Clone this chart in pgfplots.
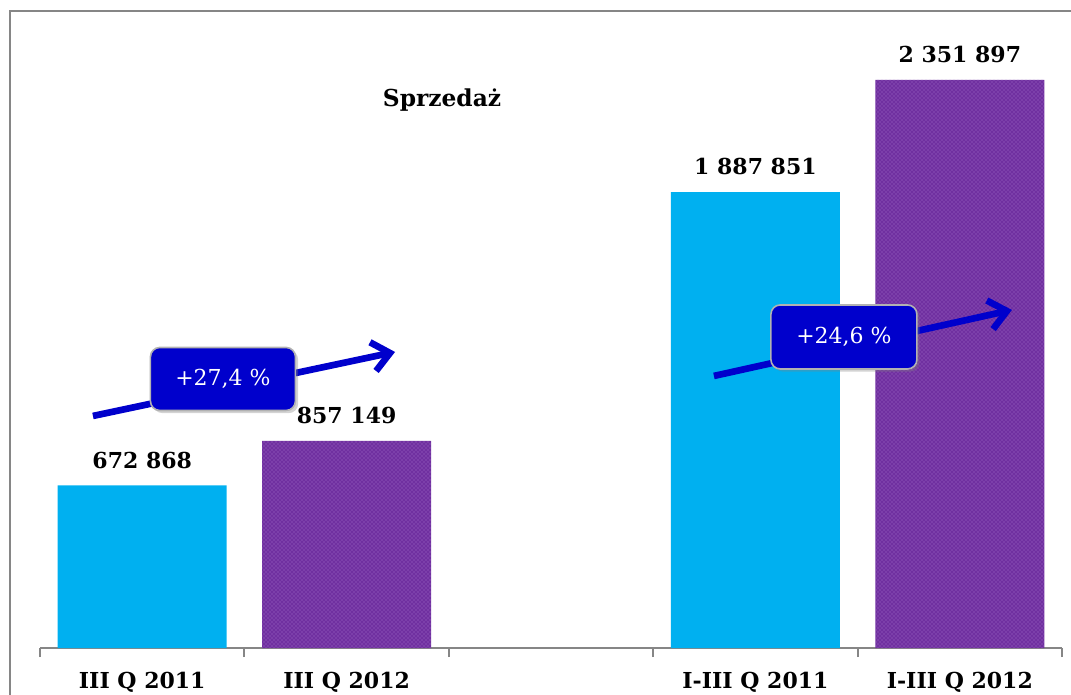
\documentclass[border=0pt]{standalone}
\usepackage{pgfplots}
\pgfplotsset{compat=1.18}
\usepackage{fontspec}
\setmainfont{DejaVu Serif}
\usetikzlibrary{patterns,shadows,arrows.meta}
\definecolor{cyanbar}{RGB}{0,176,240}
\definecolor{purplebar}{RGB}{112,48,160}
\definecolor{purplelight}{RGB}{165,115,205}
\definecolor{arrowblue}{RGB}{0,0,204}
\definecolor{framegray}{RGB}{134,134,134}
\begin{document}
\begin{tikzpicture}
\useasboundingbox (0,0) rectangle (803.25pt,520.5pt);
\draw[framegray, line width=1.5pt] (7.5pt,-10pt) -- (7.5pt,512.25pt) -- (820pt,512.25pt);
\begin{axis}[
  at={(30pt,34.5pt)}, anchor=south west,
  scale only axis, width=766.5pt, height=471pt,
  xmin=-0.5, xmax=4.5, ymin=0, ymax=2600000,
  axis y line=none, axis x line*=bottom,
  x axis line style={framegray, line width=1.5pt, -},
  xtick={0,1,3,4},
  xticklabels={III Q 2011, III Q 2012, I-III Q 2011, I-III Q 2012},
  major tick length=0pt,
  extra x ticks={-0.5,0.5,1.5,2.5,3.5,4.5},
  extra x tick labels={},
  extra x tick style={major tick length=6.75pt, tick style={framegray, line width=1.5pt}, tick align=outside},
  xticklabel style={font=\fontsize{16.5}{19}\selectfont\bfseries, anchor=center, yshift=-25.5pt},
  ybar, bar width=0.827, bar shift=0pt, clip=false,
  nodes near coords, point meta=explicit symbolic,
  every node near coord/.append style={font=\fontsize{16.5}{19}\selectfont\bfseries, anchor=center, yshift=19pt},
]
\addplot[fill=cyanbar, draw=none, bar shift=0pt] table[meta=label] {
x y label
0 672868 {672 868}
3 1887851 {1 887 851}
};
\addplot[fill=purplebar, draw=none, bar shift=0pt, postaction={pattern=crosshatch dots, pattern color=purplelight}] table[meta=label] {
x y label
1 857149 {857 149}
4 2351897 {2 351 897}
};
\node[font=\fontsize{17.5}{20}\selectfont\bfseries] at (axis cs:1.467,2269151) {Sprzedaż};
\draw[arrowblue, line width=5pt, -{Straight Barb[length=13pt,width=22pt,line width=5pt]}] (axis cs:-0.241,960662) -- (axis cs:1.237,1225673);
\draw[arrowblue, line width=5pt, -{Straight Barb[length=13pt,width=22pt,line width=5pt]}] (axis cs:2.797,1126294) -- (axis cs:4.255,1399586);
\node[fill=arrowblue, draw=gray!60, line width=1.2pt, rounded corners=7pt, minimum width=108.75pt, minimum height=47.25pt, text=white, font=\fontsize{16.5}{19}\selectfont, drop shadow={opacity=0.35, shadow xshift=2pt, shadow yshift=-2pt}] at (axis cs:0.395,1113872) {+27,4 \%};
\node[fill=arrowblue, draw=gray!60, line width=1.2pt, rounded corners=7pt, minimum width=109.5pt, minimum height=48pt, text=white, font=\fontsize{16.5}{19}\selectfont, drop shadow={opacity=0.35, shadow xshift=2pt, shadow yshift=-2pt}] at (axis cs:3.433,1287785) {+24,6 \%};
\end{axis}
\end{tikzpicture}
\end{document}
